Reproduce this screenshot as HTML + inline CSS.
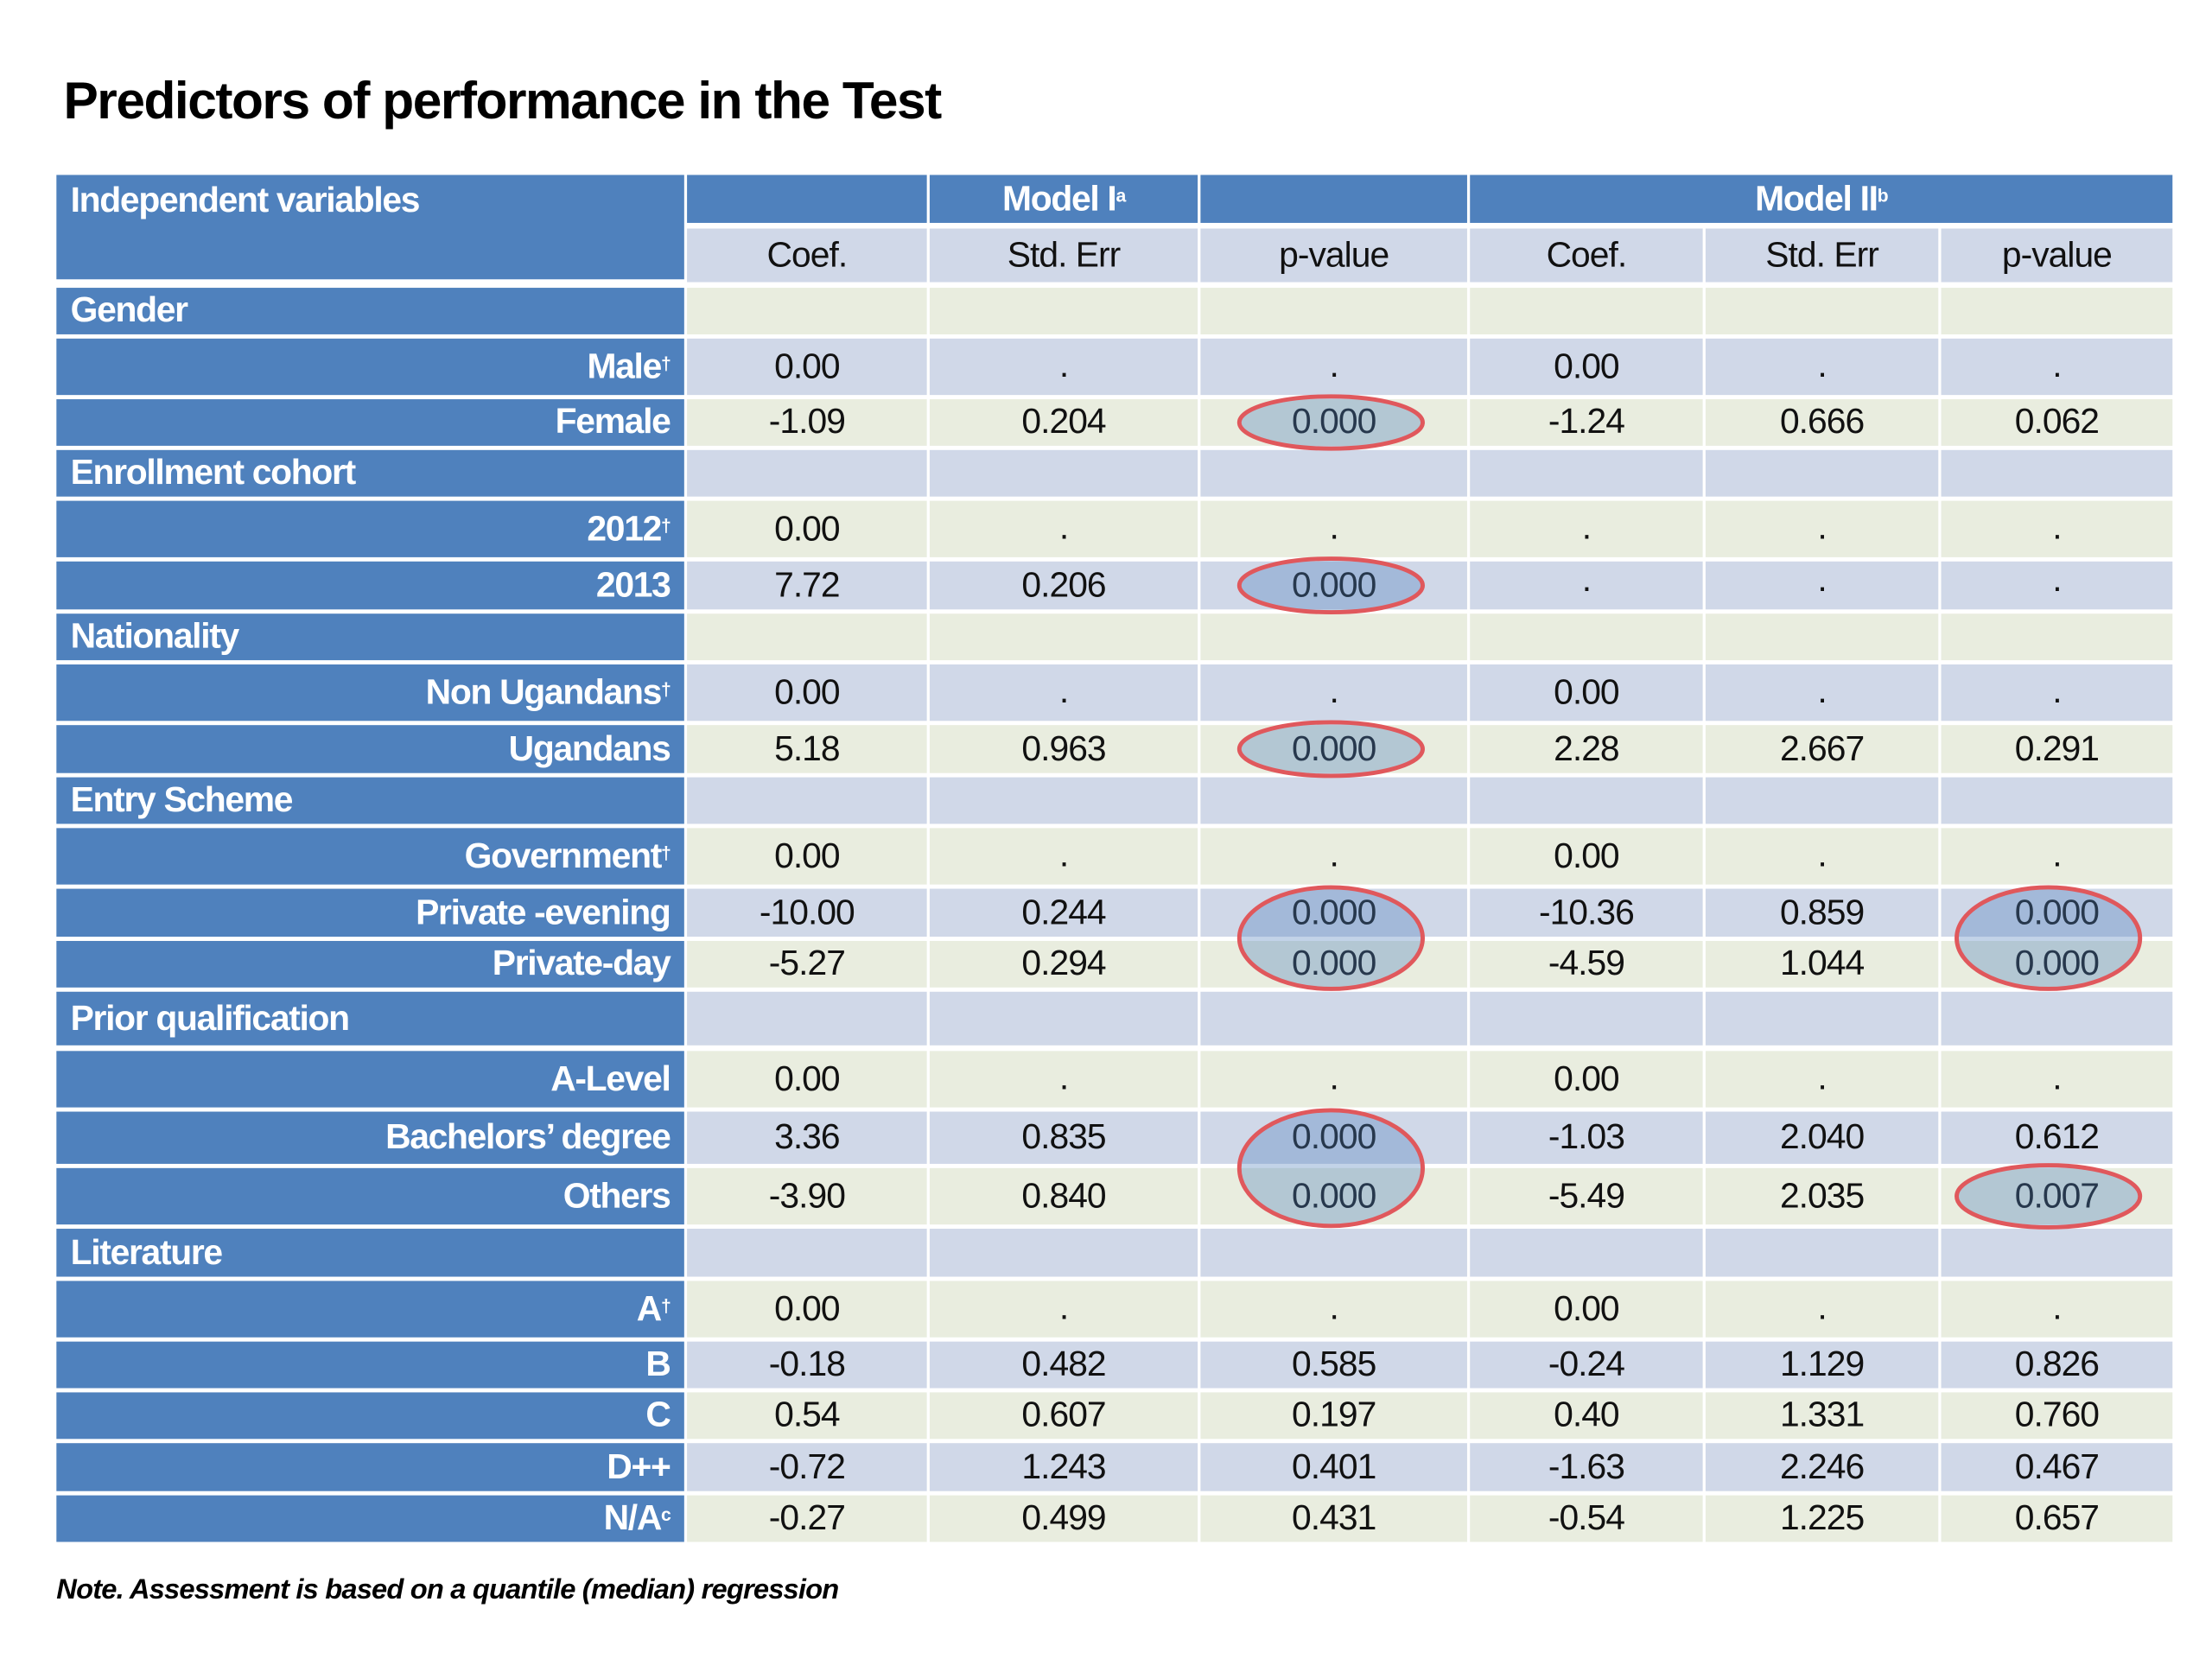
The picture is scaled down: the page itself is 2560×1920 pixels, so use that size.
<!DOCTYPE html>
<html><head><meta charset="utf-8">
<style>
html,body{margin:0;padding:0;background:#fff;}
body{width:2560px;height:1920px;overflow:hidden;position:relative;}
#stage{position:absolute;left:0;top:0;width:1568px;height:1176px;transform:scale(1.63265);transform-origin:0 0;font-family:"Liberation Sans",sans-serif;}
.c{position:absolute;box-sizing:border-box;display:flex;align-items:center;white-space:nowrap;}
.blue{background:#4f81bd;color:#fff;font-weight:bold;}
.lav{background:#d0d8e8;}
.grn{background:#e9eddf;}
.txt{font-size:25px;color:#111;justify-content:center;letter-spacing:-0.6px;}
.lab{font-size:25px;letter-spacing:-0.8px;}
sup{font-size:13px;position:relative;top:-3px;}
</style></head><body>
<div id="stage">
<div class="c" style="left:45px;top:50px;height:44px;font-size:37px;font-weight:bold;color:#000;letter-spacing:-0.9px;">Predictors of performance in the Test</div>
<div class="c" style="left:40px;top:1113px;height:28px;font-size:20px;font-weight:bold;font-style:italic;color:#000;letter-spacing:-0.5px;">Note. Assessment is based on a quantile (median) regression</div>
<svg id="ov" width="1568" height="1176" style="position:absolute;left:0;top:0;pointer-events:none;z-index:5"></svg>
</div>
<script>
const rowLabels=["Gender","Male","Female","Enrollment cohort","2012","2013","Nationality","Non Ugandans","Ugandans","Entry Scheme","Government","Private -evening","Private-day","Prior qualification","A-Level","Bachelors’ degree","Others","Literature","A","B","C","D++","N/A"];
const rowIsGroup=[1,0,0,1,0,0,1,0,0,1,0,0,0,1,0,0,0,1,0,0,0,0,0];
const rowSup=["","†","","","†","","","†","","","†","","","","","","","","†","","","","c"];
const m1Coef=["","0.00","-1.09","","0.00","7.72","","0.00","5.18","","0.00","-10.00","-5.27","","0.00","3.36","-3.90","","0.00","-0.18","0.54","-0.72","-0.27"];
const m1Se=["",".","0.204","",".","0.206","",".","0.963","",".","0.244","0.294","",".","0.835","0.840","",".","0.482","0.607","1.243","0.499"];
const m1P=["",".","0.000","",".","0.000","",".","0.000","",".","0.000","0.000","",".","0.000","0.000","",".","0.585","0.197","0.401","0.431"];
const m2Coef=["","0.00","-1.24","",".",".","","0.00","2.28","","0.00","-10.36","-4.59","","0.00","-1.03","-5.49","","0.00","-0.24","0.40","-1.63","-0.54"];
const m2Se=["",".","0.666","",".",".","",".","2.667","",".","0.859","1.044","",".","2.040","2.035","",".","1.129","1.331","2.246","1.225"];
const m2P=["",".","0.062","",".",".","",".","0.291","",".","0.000","0.000","",".","0.612","0.007","",".","0.826","0.760","0.467","0.657"];
const colHeads=["Coef.","Std. Err","p-value","Coef.","Std. Err","p-value"];
// highlighted cells: [column index, first row, last row]
const highlights=[[2,2,2],[2,5,5],[2,8,8],[2,11,12],[5,11,12],[2,15,16],[5,16,16]];

const st=document.getElementById('stage');
const colX=[[487,657],[659,849],[851,1040],[1042,1207],[1209,1374],[1376,1540]];
const rowY=[[204,237],[240,280],[283,316],[319,352],[355,395],[398,432],[435,468],[471,511],[514,548],[551,584],[587,627],[630,664],[667,700],[703,741],[745,785],[788,825],[828,868],[871,905],[908,948],[951,984],[987,1020],[1023,1057],[1060,1093]];
function cell(cls,x,y,w,h,html,name,extra){
  const d=document.createElement('div');
  d.className='c '+cls;
  d.style.left=x+'px';d.style.top=y+'px';d.style.width=w+'px';d.style.height=h+'px';
  if(extra)d.style.cssText+=extra;
  d.innerHTML=html;
  
  
  st.appendChild(d);return d;
}
// header
cell('blue lab',40,124,445,74,'<span style="position:absolute;left:10px;top:4px">Independent variables</span>','header-independent-variables');
cell('blue lab',487,124,170,34,'','header-blank-1');
cell('blue lab',659,124,190,34,'Model I <sup>a</sup>','header-model-1','justify-content:center');
cell('blue lab',851,124,189,34,'','header-blank-2');
cell('blue lab',1042,124,498,34,'Model II <sup>b</sup>','header-model-2','justify-content:center');
colHeads.forEach((h,i)=>{cell('lav txt',colX[i][0],162,colX[i][1]-colX[i][0],38,h,'col-head-'+i);});
const cols=[m1Coef,m1Se,m1P,m2Coef,m2Se,m2P];
rowLabels.forEach((lab,r)=>{
  const y=rowY[r][0],h=rowY[r][1]-rowY[r][0];
  const bg=(r%2===0)?'grn':'lav';
  const supHtml=rowSup[r]?'<sup>'+rowSup[r]+'</sup>':'';
  if(rowIsGroup[r]) cell('blue lab',40,y,445,h,lab,'group-label-'+r,'padding-left:10px');
  else cell('blue lab',40,y,445,h,lab+supHtml,'row-label-'+r,'justify-content:flex-end;padding-right:10px');
  cols.forEach((arr,c)=>{
    const v=arr[r];
    const d=cell(bg+' txt',colX[c][0],y,colX[c][1]-colX[c][0],h,v,'cell-r'+r+'-c'+c,v==='.'?'align-items:flex-end;padding-bottom:6px':'');
  });
});
const ov=document.getElementById('ov');
highlights.forEach((hl,i)=>{
  const [c,r0,r1]=hl;
  const cx=(colX[c][0]+colX[c][1])/2+ (c===5?-6:-2);
  const cy=(rowY[r0][0]+rowY[r1][1])/2;
  const ry=(rowY[r1][1]-rowY[r0][0])/2+ (r0===r1?2:1);
  const e=document.createElementNS('http://www.w3.org/2000/svg','ellipse');
  e.setAttribute('cx',cx);e.setAttribute('cy',cy);e.setAttribute('rx',65);e.setAttribute('ry',ry);
  e.setAttribute('fill','rgba(79,129,189,0.35)');e.setAttribute('stroke','#e0585c');e.setAttribute('stroke-width','3');
  
  
  ov.appendChild(e);
});
</script>
</body></html>
